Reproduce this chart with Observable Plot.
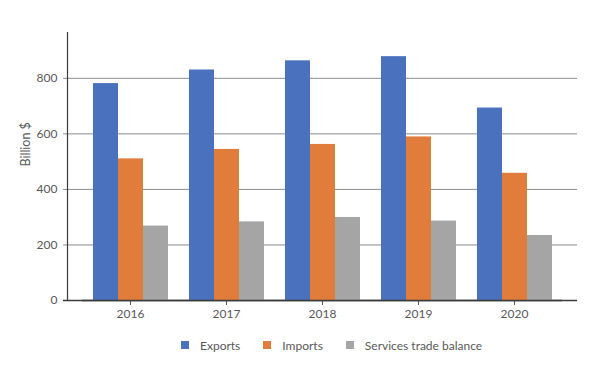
<!DOCTYPE html>
<html><head><meta charset="utf-8">
<script src="https://cdn.jsdelivr.net/npm/d3@7"></script>
<script src="https://cdn.jsdelivr.net/npm/@observablehq/plot@0.6"></script>
<style>
body{margin:0;background:#fff;font-family:Lato,sans-serif;}
#wrap{position:relative;width:598px;height:330px;}
#wrap svg{position:absolute;left:0;top:0;background:transparent;}
#legend{display:flex;align-items:center;height:30px;padding-left:181px;font-family:Lato,sans-serif;font-size:12px;color:#595959;}
.item{display:flex;align-items:center;margin-right:23px;}
.sw{width:8px;height:8px;margin-right:11px;}
</style></head><body>
<div id="wrap"></div>
<div id="legend"></div>
<script>
const years = ["2016", "2017", "2018", "2019", "2020"];
const series = ["Exports", "Imports", "Services trade balance"];
const exportsVals = [781, 830, 863, 878, 693];
const importsVals = [510, 544, 562, 589, 458];
const servicesVals = [268, 283, 299, 286, 234];
const colors = ["#4a71bd", "#e07c3c", "#a5a5a5"];
const yTicks = [0, 200, 400, 600, 800];
const yTop = 965;
const yLabel = "Billion $";

const valuesBySeries = [exportsVals, importsVals, servicesVals];
const data = [];
years.forEach((yr, i) => series.forEach((s, j) => data.push({year: yr, series: s, value: valuesBySeries[j][i]})));

const W = 598, H = 330;
const font = {fontFamily: "Lato, sans-serif", fontSize: "12px", color: "#595959", background: "transparent", overflow: "visible"};

// background layer: axis, gridlines
const bg = Plot.plot({
  width: W, height: H,
  marginLeft: 67, marginRight: 21, marginTop: 32, marginBottom: 30,
  style: font,
  x: {domain: [0, 1], axis: null},
  y: {domain: [0, yTop], ticks: yTicks, tickSize: 0, tickPadding: 10, label: null},
  marks: [
    Plot.ruleY(yTicks.filter(d => d > 0), {stroke: "#8c8c8c", strokeWidth: 1, insetLeft: -4}),
    Plot.ruleY([0], {stroke: "#3a3a3a", strokeWidth: 1.5, insetLeft: -4}),
    Plot.ruleX([0], {y1: 0, y2: yTop, stroke: "#3a3a3a", strokeWidth: 1.2}),
    Plot.text([yLabel], {frameAnchor: "left", rotate: -90, dx: -42, fontSize: 12.5, fill: "#595959"})
  ]
});

// foreground layer: grouped bars
const fg = Plot.plot({
  width: W, height: H,
  marginLeft: 80, marginRight: 34, marginTop: 32, marginBottom: 30,
  style: font,
  fx: {domain: years, padding: 0, axis: "bottom", tickSize: 5, tickPadding: 4, label: null},
  x: {domain: series, paddingInner: 0, paddingOuter: 0.39, axis: null},
  y: {domain: [0, yTop], axis: null},
  color: {domain: series, range: colors},
  marks: [
    Plot.barY(data, {fx: "year", x: "series", y: "value", fill: "series", inset: 0}),
    Plot.ruleY([0], {stroke: "#3a3a3a", strokeWidth: 1.5})
  ]
});

const wrap = document.getElementById("wrap");
wrap.appendChild(bg);
wrap.appendChild(fg);

const legend = document.getElementById("legend");
series.forEach((s, j) => {
  const it = document.createElement("div");
  it.className = "item";
  const sw = document.createElement("span");
  sw.className = "sw";
  sw.style.background = colors[j];
  const t = document.createElement("span");
  t.textContent = s;
  it.appendChild(sw); it.appendChild(t);
  legend.appendChild(it);
});
</script>
</body></html>
